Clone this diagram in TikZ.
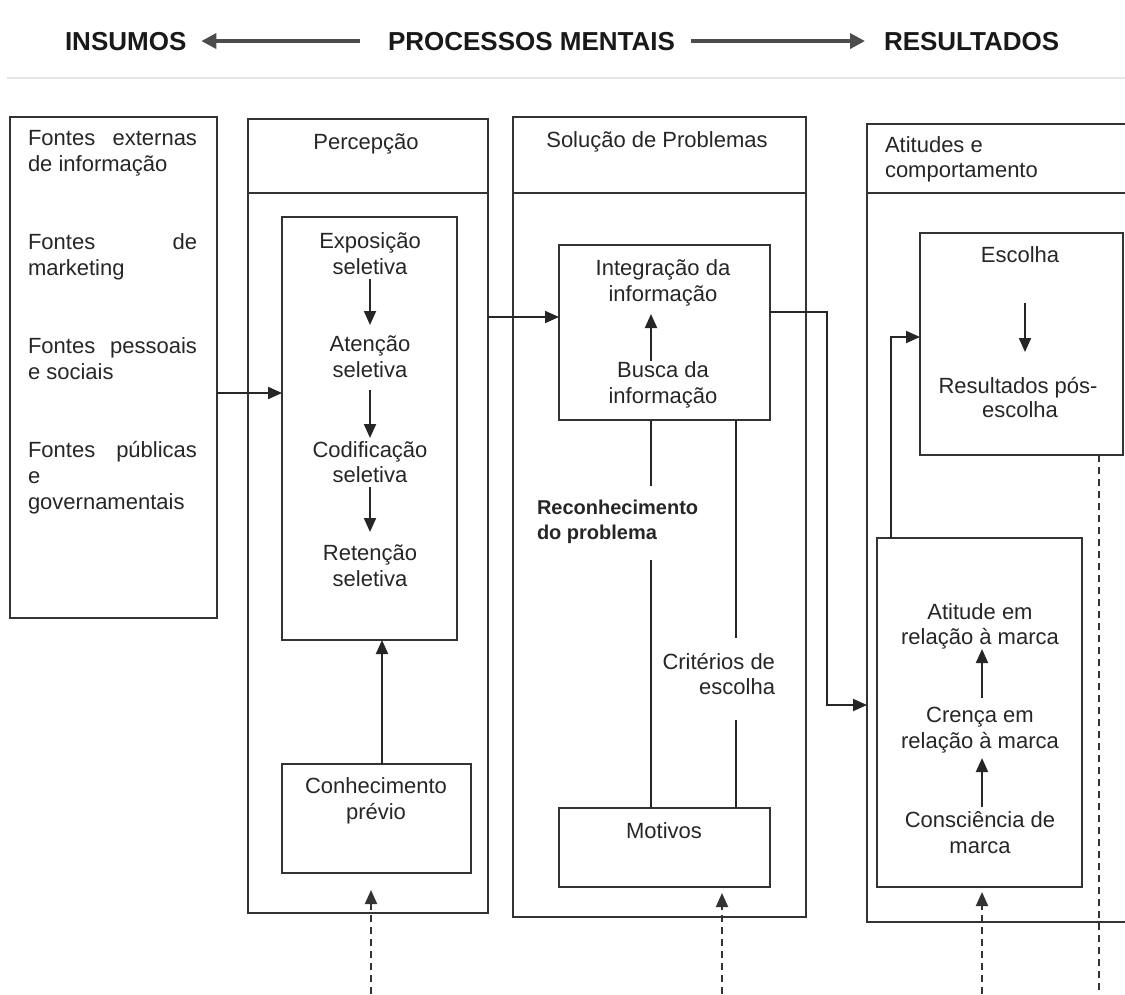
\documentclass[tikz,border=0pt]{standalone}
\usepackage{fontspec}
\setmainfont{Liberation Sans}
\usetikzlibrary{arrows.meta}
\begin{document}
\begin{tikzpicture}[x=1pt,y=-1pt,
  box/.style={draw=black!80,line width=2pt,inner sep=0pt,outer sep=0pt,anchor=north west},
  txc/.style={inner sep=0pt,outer sep=0pt,anchor=base,text=black!85,font=\fontsize{22}{26}\selectfont,text height=16pt,text depth=5pt},
  txl/.style={txc,anchor=base west},
  txr/.style={txc,anchor=base east},
  txb/.style={txc,font=\fontsize{20}{24}\selectfont\bfseries,text height=15pt},
  hd/.style={inner sep=0pt,outer sep=0pt,anchor=base west,font=\fontsize{26}{30}\selectfont\bfseries,text=black!90},
  arr/.style={draw=black!85,line width=2pt,-{Triangle[length=14pt,width=12pt]}},
  ln/.style={draw=black!85,line width=2pt},
  dline/.style={draw=black!80,line width=2pt,dash pattern=on 7pt off 5pt},
  dar/.style={dline,-{Triangle[length=14pt,width=12pt]}},
  harr/.style={draw=black!70,line width=3.5pt,-{Triangle[length=15pt,width=15pt]}},
]
\useasboundingbox (0,0) rectangle (1125,994);
\clip (0,0) rectangle (1125,994);

% header
\node[hd] (ins) at (65,50) {INSUMOS};
\node[hd] (proc) at (388,50) {PROCESSOS MENTAIS};
\node[hd] (res) at (884,50) {RESULTADOS};
\draw[harr] ([xshift=-28pt]proc.west) -- ([xshift=15pt]ins.east);
\draw[harr] ([xshift=16pt]proc.east) -- ([xshift=-19pt]res.west);
\draw[gray!20,line width=1.5pt] (7,78) -- (1125,78);

% Fontes
\node[box,minimum width=207pt,minimum height=501pt] (fontes) at (10,117) {};
\node[txl] (f1a) at (28,145) {\makebox[169pt][s]{Fontes externas}};
\node[txl] (f1b) at (28,171) {de informação};
\node[txl] (f2a) at (28,249) {\makebox[169pt][s]{Fontes de}};
\node[txl] (f2b) at (28,275) {marketing};
\node[txl] (f3a) at (28,353) {\makebox[169pt][s]{Fontes pessoais}};
\node[txl] (f3b) at (28,379) {e sociais};
\node[txl] (f4a) at (28,457) {\makebox[169pt][s]{Fontes públicas}};
\node[txl] (f4b) at (28,483) {e};
\node[txl] (f4c) at (28,509) {governamentais};

% Percepcao
\node[box,minimum width=240pt,minimum height=74pt] (perHead) at (248,119) {};
\node[box,minimum width=240pt,minimum height=720pt] (perBody) at (248,193) {};
\node[txc] (perT) at (366,149) {Percepção};
\node[box,minimum width=175pt,minimum height=423pt] (expBox) at (282,217) {};
\node[txc] (e1) at (370,248) {Exposição};
\node[txc] (e2) at (370,274) {seletiva};
\node[txc] (a1) at (370,351) {Atenção};
\node[txc] (a2) at (370,377) {seletiva};
\node[txc] (c1) at (370,457) {Codificação};
\node[txc] (c2) at (370,482) {seletiva};
\node[txc] (r1) at (370,560) {Retenção};
\node[txc] (r2) at (370,586) {seletiva};
\draw[arr] (e2.south) -- ([yshift=10pt]a1.north);
\draw[arr] ([yshift=-8pt]a2.south) -- ([yshift=3pt]c1.north);
\draw[arr] (c2.south) -- ([yshift=12pt]r1.north);
\node[box,minimum width=189pt,minimum height=109pt] (conBox) at (282,764) {};
\node[txc] (k1) at (376,793) {Conhecimento};
\node[txc] (k2) at (376,819) {prévio};
\coordinate (kq) at ([xshift=5.5pt]conBox.north);
\draw[arr] (kq) -- (kq |- expBox.south);
\coordinate (fe) at ([yshift=-25.5pt]fontes.east);
\draw[arr] (fe) -- (fe -| expBox.west);
\coordinate (d1) at (371,994);
\draw[dar,shorten >=17pt] (d1) -- (d1 |- conBox.south);

% Solucao de Problemas
\node[box,minimum width=293pt,minimum height=76pt] (solHead) at (513,117) {};
\node[box,minimum width=293pt,minimum height=724pt] (solBody) at (513,193) {};
\node[txc] (solT) at (657,147) {Solução de Problemas};
\node[box,minimum width=211pt,minimum height=175pt] (intBox) at (559,245) {};
\node[txc] (i1) at (663,275) {Integração da};
\node[txc] (i2) at (663,301) {informação};
\node[txc] (b1) at (663,377) {Busca da};
\node[txc] (b2) at (663,403) {informação};
\draw[arr] ([xshift=-12pt]b1.north) -- ([xshift=-12pt,yshift=-8pt]i2.south);
\node[box,minimum width=211pt,minimum height=79pt] (motBox) at (559,808) {};
\node[txc] (mot) at (664,838) {Motivos};
\node[txb,anchor=base west] (rc1) at (537,514) {Reconhecimento};
\node[txb,anchor=base west] (rc2) at (537,539) {do problema};
\node[txr] (cr1) at (775,669) {Critérios de};
\node[txr] (cr2) at (775,694) {escolha};
\coordinate (g1a) at (651,486);
\coordinate (g1b) at (651,560);
\draw[ln] (g1a |- intBox.south) -- (g1a);
\draw[ln] (g1b) -- (g1b |- motBox.north);
\coordinate (g2a) at (736,638);
\coordinate (g2b) at (736,720);
\draw[ln] (g2a |- intBox.south) -- (g2a);
\draw[ln] (g2b) -- (g2b |- motBox.north);
\coordinate (pi) at ([yshift=15.5pt]intBox.west);
\draw[arr] (pi -| perBody.east) -- (pi);
\coordinate (d2) at (722,994);
\draw[dar,shorten >=6pt] (d2) -- (d2 |- motBox.south);

% Atitudes e comportamento
\node[box,minimum width=280pt,minimum height=69pt] (atiHead) at (867,124) {};
\node[box,minimum width=280pt,minimum height=729pt] (atiBody) at (867,193) {};
\node[txl] (at1) at (885,152) {Atitudes e};
\node[txl] (at2) at (885,177) {comportamento};
\node[box,minimum width=203pt,minimum height=222pt] (escBox) at (920,233) {};
\node[txc] (es1) at (1020,262) {Escolha};
\node[txc] (rp1) at (1018,393) {Resultados pós-};
\node[txc] (rp2) at (1020,417) {escolha};
\coordinate (eq) at ([xshift=5pt,yshift=-36pt]es1.south);
\draw[arr,shorten >=25pt] (eq) -- (eq |- rp1.north);
\node[box,minimum width=205pt,minimum height=349pt] (brandBox) at (877,538) {};
\node[txc] (bA1) at (980,619) {Atitude em};
\node[txc] (bA2) at (980,644) {relação à marca};
\node[txc] (bC1) at (980,722) {Crença em};
\node[txc] (bC2) at (980,748) {relação à marca};
\node[txc] (bK1) at (980,827) {Consciência de};
\node[txc] (bK2) at (980,853) {marca};
\coordinate (ba) at ([xshift=2pt,yshift=8pt]bC1.north);
\draw[arr] (ba) -- (ba |- bA2.south);
\coordinate (bb) at ([xshift=2pt,yshift=4pt]bK1.north);
\draw[arr,shorten >=5pt] (bb) -- (bb |- bC2.south);

% routes
\coordinate (ra) at ([yshift=20.5pt]intBox.east);
\coordinate (rb) at (827,705);
\draw[arr] (ra) -| (rb) -- (rb -| atiBody.west);
\coordinate (bq) at (891,337);
\draw[arr] (bq |- brandBox.north) -- (bq) -- (bq -| escBox.west);
\coordinate (d3) at (982,994);
\draw[dar,shorten >=5pt] (d3) -- (d3 |- brandBox.south);
\coordinate (d4) at (1099,994);
\draw[dline] (d4 |- escBox.south) -- (d4);
\end{tikzpicture}
\end{document}
